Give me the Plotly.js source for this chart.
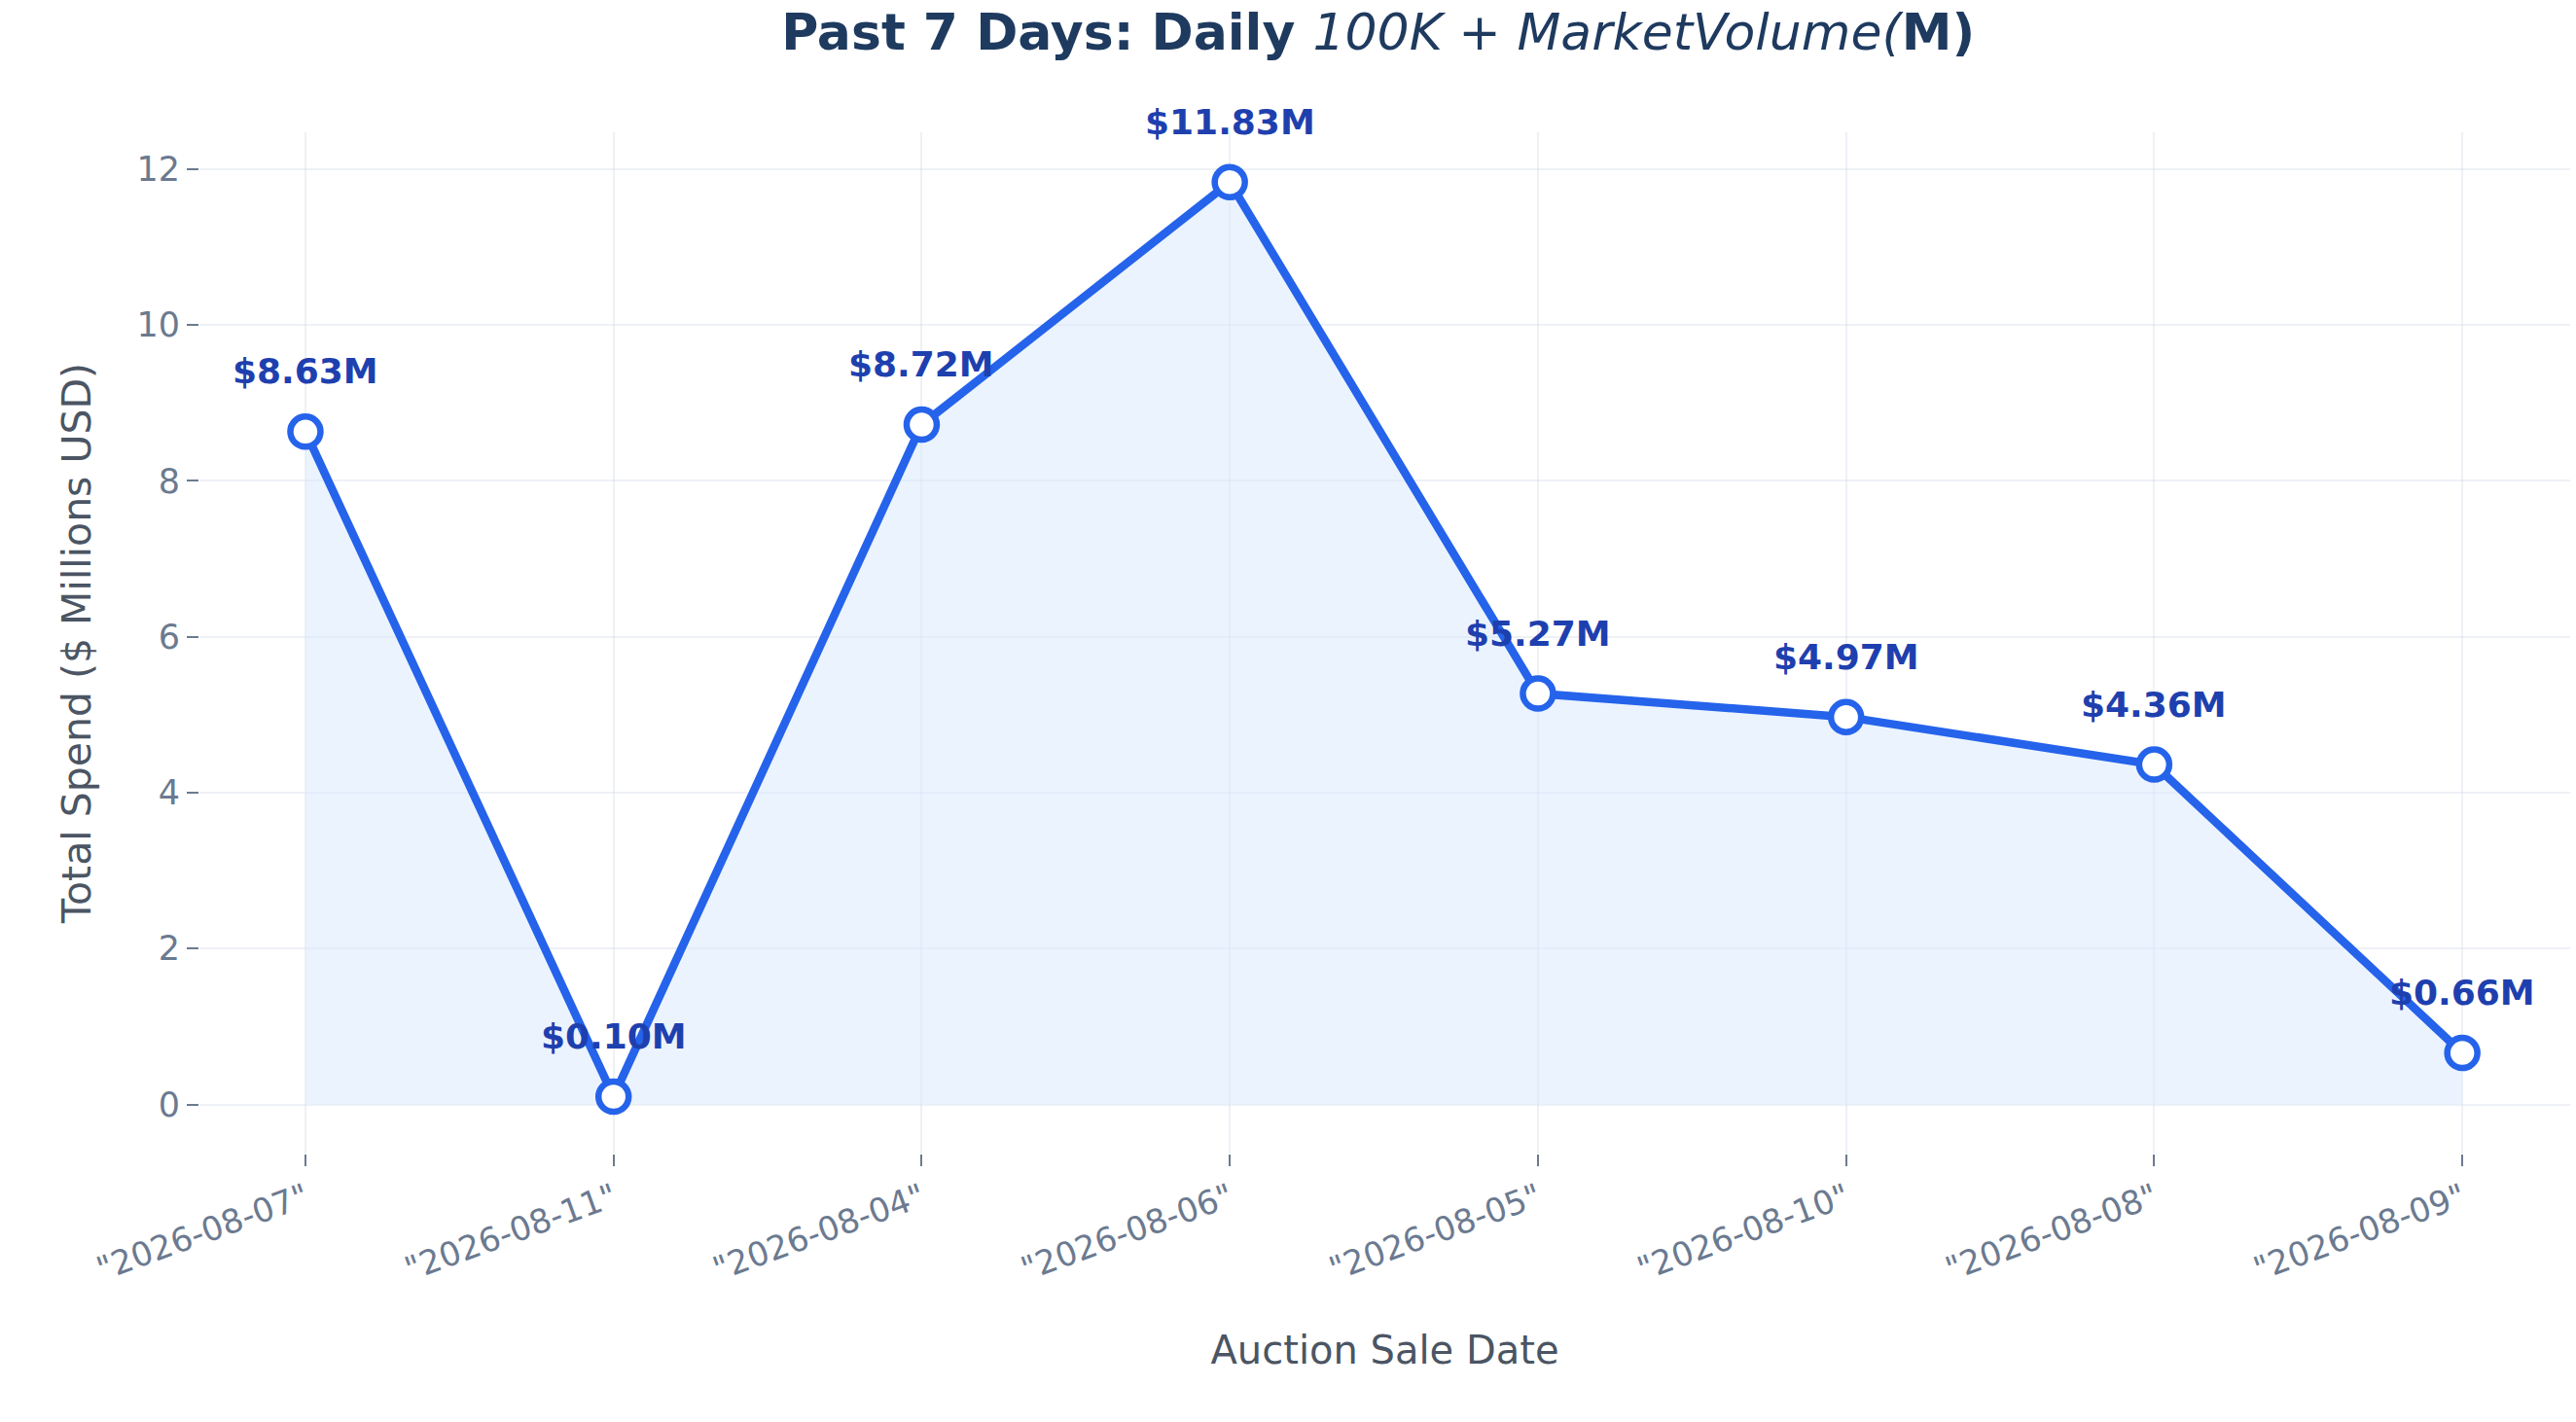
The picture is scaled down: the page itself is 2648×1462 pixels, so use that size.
<!DOCTYPE html>
<html>
<head>
<meta charset="utf-8">
<script src="https://cdn.plot.ly/plotly-3.0.1.min.js"></script>
<style>html,body{margin:0;padding:0;background:#fff}</style>
</head>
<body>
<div id="chart" style="width:2648px;height:1462px"></div>
<script>
const dates = ['"2026-08-07"', '"2026-08-11"', '"2026-08-04"', '"2026-08-06"', '"2026-08-05"', '"2026-08-10"', '"2026-08-08"', '"2026-08-09"'];
const spend = [8.63, 0.10, 8.72, 11.83, 5.27, 4.97, 4.36, 0.66];
const labels = spend.map(v => '$' + v.toFixed(2) + 'M');

const idx = dates.map((d, i) => i);

const trace = {
  x: idx,
  y: spend,
  type: 'scatter',
  mode: 'lines+markers',
  fill: 'tozeroy',
  fillcolor: 'rgba(219,234,254,0.55)',
  line: {color: '#2563eb', width: 8.5},
  marker: {size: 31, color: '#ffffff', line: {color: '#2563eb', width: 6.5}},
  hoverinfo: 'skip'
};

const annotations = spend.map((v, i) => ({
  x: i, y: v, xref: 'x', yref: 'y',
  text: '<b>' + labels[i] + '</b>',
  showarrow: false, yshift: 62,
  font: {family: 'DejaVu Sans', size: 36, color: '#1e40af'}
}));

const layout = {
  width: 2648, height: 1462,
  margin: {l: 205, r: 6, t: 136, b: 276},
  paper_bgcolor: '#ffffff', plot_bgcolor: '#ffffff',
  showlegend: false,
  font: {family: 'DejaVu Sans'},
  title: {
    text: '<b>Past 7 Days: Daily </b><i>100K + MarketVolume(</i><b>M)</b>',
    font: {family: 'DejaVu Sans', size: 52, color: '#1e3a5f'},
    x: 0.535, xanchor: 'center', y: 0.99, yanchor: 'top'
  },
  xaxis: {
    range: [-0.344, 7.35],
    tickvals: idx, ticktext: dates,
    tickangle: -20,
    tickfont: {size: 34, color: '#6b7a90'},
    ticks: 'outside', ticklen: 12, tickwidth: 2, tickcolor: '#6b7a90',
    showgrid: true, gridcolor: 'rgba(200,210,225,0.3)', gridwidth: 2,
    zeroline: false, showline: false,
    title: {text: 'Auction Sale Date', font: {size: 40, color: '#4b5563'}, standoff: 50}
  },
  yaxis: {
    range: [-0.63, 12.47],
    tickvals: [0, 2, 4, 6, 8, 10, 12],
    tickfont: {size: 35, color: '#6b7a90'},
    ticks: 'outside', ticklen: 12, tickwidth: 2, tickcolor: '#6b7a90',
    showgrid: true, gridcolor: 'rgba(200,210,225,0.3)', gridwidth: 2,
    zeroline: false, showline: false,
    title: {text: 'Total Spend ($ Millions USD)', font: {size: 41, color: '#4b5563'}, standoff: 34}
  },
  annotations: annotations
};

Plotly.newPlot('chart', [trace], layout, {staticPlot: true});
</script>
</body>
</html>
